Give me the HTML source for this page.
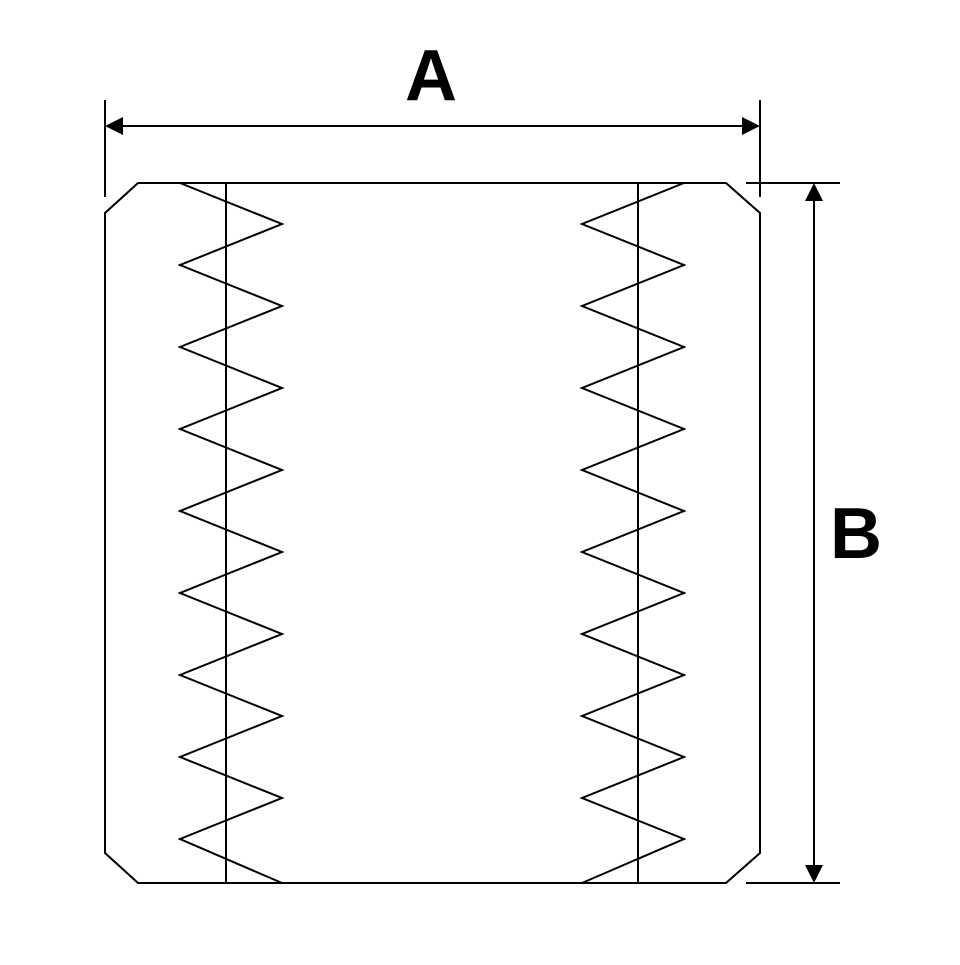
<!DOCTYPE html>
<html><head><style>html,body{margin:0;padding:0;background:#fff}</style></head>
<body>
<svg width="960" height="960" viewBox="0 0 960 960" xmlns="http://www.w3.org/2000/svg">
<g fill="none" stroke="#000" stroke-width="2">
<polygon points="138,183 726,183 760,213 760,853 726,883 138,883 105,853 105,213"/>
<line x1="226" y1="183" x2="226" y2="883"/>
<line x1="638" y1="183" x2="638" y2="883"/>
<polyline points="180,183 282,224 180,265 282,306 180,347 282,388 180,429 282,470 180,511 282,552 180,593 282,634 180,675 282,716 180,757 282,798 180,839 282,883"/>
<polyline points="684,183 582,224 684,265 582,306 684,347 582,388 684,429 582,470 684,511 582,552 684,593 582,634 684,675 582,716 684,757 582,798 684,839 582,883"/>
<line x1="105" y1="100" x2="105" y2="197"/>
<line x1="760" y1="100" x2="760" y2="197"/>
<line x1="120" y1="126" x2="745" y2="126"/>
<line x1="746" y1="183" x2="840" y2="183"/>
<line x1="746" y1="883" x2="840" y2="883"/>
<line x1="814" y1="198" x2="814" y2="868"/>
</g>
<g fill="#000">
<polygon points="105,126 123,117 123,135"/>
<polygon points="760,126 742,117 742,135"/>
<polygon points="814,183 805,201 823,201"/>
<polygon points="814,883 805,865 823,865"/>
</g>
<text x="431" y="100" font-family="Liberation Sans, sans-serif" font-weight="bold" font-size="72" text-anchor="middle">A</text>
<text x="856" y="558" font-family="Liberation Sans, sans-serif" font-weight="bold" font-size="72" text-anchor="middle">B</text>
</svg>
</body></html>
